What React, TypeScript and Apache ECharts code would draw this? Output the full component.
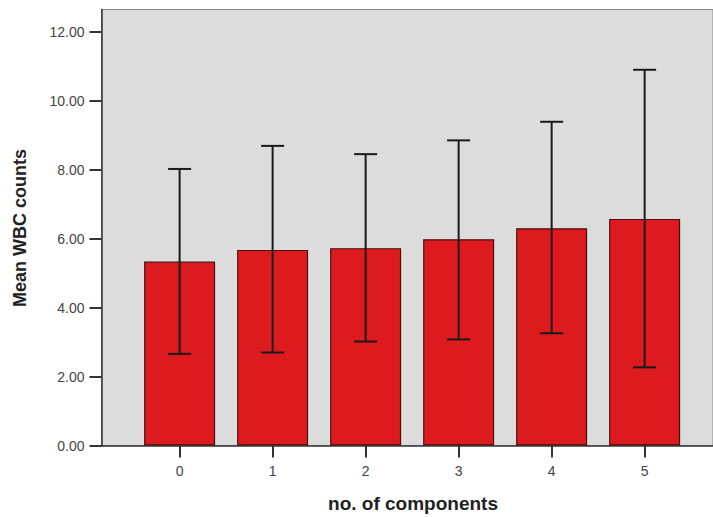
import React, { useEffect, useRef } from "react";
import * as echarts from "echarts";

const categories = [0, 1, 2, 3, 4, 5];
const meanValues = [5.34, 5.68, 5.73, 5.99, 6.31, 6.58];
const upperValues = [8.03, 8.7, 8.46, 8.86, 9.4, 10.91];
const lowerValues = [2.66, 2.7, 3.02, 3.08, 3.26, 2.27];
const yTicks = [0, 2, 4, 6, 8, 10, 12];

export default function App() {
  const ref = useRef<HTMLDivElement>(null);
  useEffect(() => {
    const chart = echarts.init(ref.current!, null, { renderer: "svg" });
    const font = "'Liberation Sans', Arial, sans-serif";
    chart.setOption({
      animation: false,
      backgroundColor: "#ffffff",
      grid: {
        left: 101.5,
        top: 9.5,
        right: -2,
        bottom: 71.5,
        show: true,
        backgroundColor: "#dcdcdc",
        borderColor: "#8a8a8a",
        borderWidth: 1,
      },
      xAxis: {
        type: "value",
        min: -0.84,
        max: 5.735,
        splitLine: { show: false },
        axisLine: { show: true, onZero: false, lineStyle: { color: "#333", width: 1.5 } },
        axisTick: {
          show: true,
          length: 12,
          customValues: categories,
          lineStyle: { color: "#333", width: 2 },
        },
        axisLabel: {
          customValues: categories,
          formatter: (v: number) => String(v),
          margin: 18,
          color: "#444",
          fontSize: 14,
          fontFamily: font,
        },
      },
      yAxis: {
        type: "value",
        min: 0,
        max: 12.66,
        splitLine: { show: false },
        axisLine: { show: true, onZero: false, lineStyle: { color: "#333", width: 1.5 } },
        axisTick: {
          show: true,
          length: 12,
          customValues: yTicks,
          lineStyle: { color: "#333", width: 2 },
        },
        axisLabel: {
          customValues: yTicks,
          formatter: (v: number) => v.toFixed(2),
          margin: 17,
          color: "#444",
          fontSize: 14,
          fontFamily: font,
        },
      },
      graphic: [
        {
          type: "text",
          x: 20,
          y: 228,
          rotation: Math.PI / 2,
          style: {
            text: "Mean WBC counts",
            font: `bold 18px ${font}`,
            fill: "#222",
            align: "center",
            verticalAlign: "middle",
          },
        },
        {
          type: "text",
          x: 413,
          y: 503,
          style: {
            text: "no. of components",
            font: `bold 19px ${font}`,
            fill: "#222",
            align: "center",
            verticalAlign: "middle",
          },
        },
      ],
      series: [
        {
          type: "bar",
          data: categories.map((c, i) => [c, meanValues[i]]),
          barWidth: 71,
          itemStyle: { color: "#dd1b1f", borderColor: "#4a0f0f", borderWidth: 1.2 },
        },
        {
          type: "custom",
          data: categories.map((c, i) => [c, lowerValues[i], upperValues[i]]),
          renderItem: (params: any, api: any) => {
            const x = api.value(0);
            const lo = api.coord([x, api.value(1)]);
            const hi = api.coord([x, api.value(2)]);
            const hw = 11.5;
            const style = { stroke: "#1a1a1a", lineWidth: 2 };
            return {
              type: "group",
              children: [
                { type: "line", shape: { x1: lo[0], y1: lo[1], x2: hi[0], y2: hi[1] }, style },
                { type: "line", shape: { x1: hi[0] - hw, y1: hi[1], x2: hi[0] + hw, y2: hi[1] }, style },
                { type: "line", shape: { x1: lo[0] - hw, y1: lo[1], x2: lo[0] + hw, y2: lo[1] }, style },
              ],
            };
          },
          z: 5,
        },
      ],
    });
    return () => chart.dispose();
  }, []);
  return <div ref={ref} style={{ position: "fixed", left: 0, top: 0, width: 713, height: 517 }} />;
}
